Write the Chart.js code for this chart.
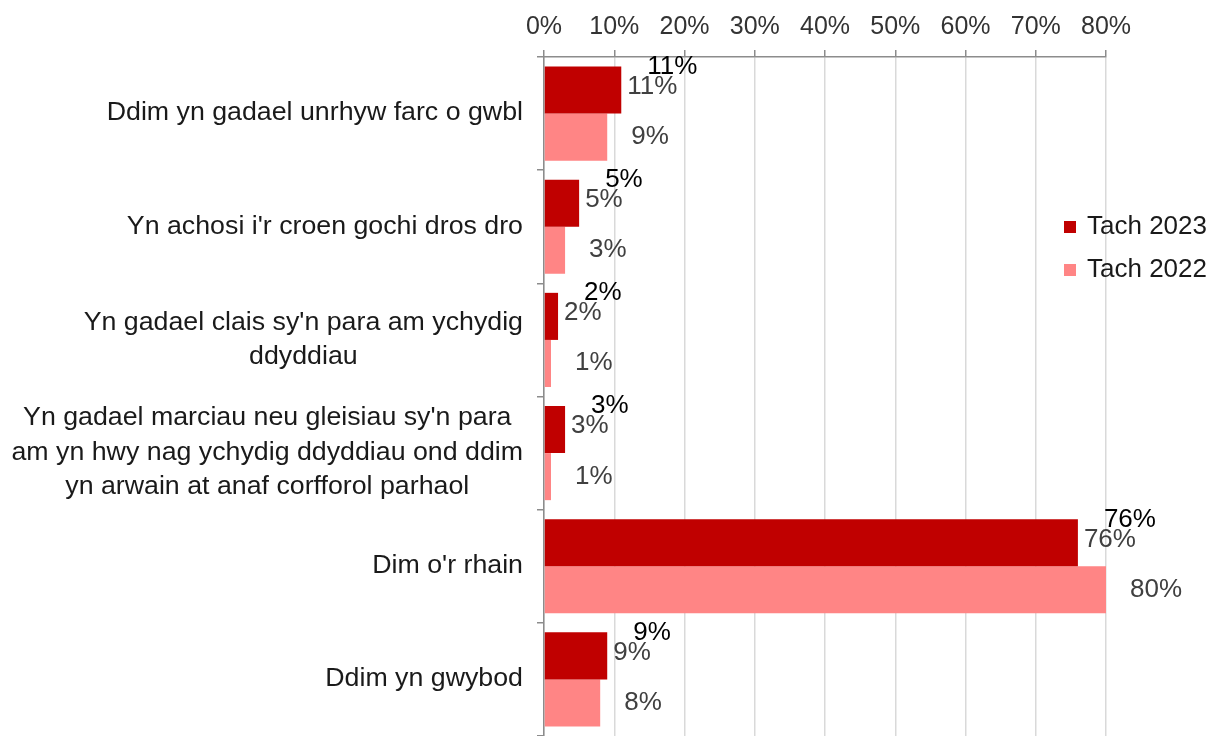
<!DOCTYPE html>
<html><head><meta charset="utf-8">
<script src="https://cdn.jsdelivr.net/npm/chart.js@4/dist/chart.umd.min.js"></script>
<style>html,body{margin:0;padding:0;background:#fff}#wrap{width:1220px;height:736px;position:relative}</style>
</head><body><div id="wrap"><canvas id="c"></canvas></div>
<script>
const categories = [
  ["Ddim yn gadael unrhyw farc o gwbl"],
  ["Yn achosi i'r croen gochi dros dro"],
  ["Yn gadael clais sy'n para am ychydig", "ddyddiau"],
  ["Yn gadael marciau neu gleisiau sy'n para", "am yn hwy nag ychydig ddyddiau ond ddim", "yn arwain at anaf corfforol parhaol"],
  ["Dim o'r rhain"],
  ["Ddim yn gwybod"]
];
const seriesNames = ["Tach 2023", "Tach 2022"];
const tach2023 = [11, 5, 2, 3, 76, 9];
const tach2022 = [9, 3, 1, 1, 80, 8];
const xTickValues = [0, 10, 20, 30, 40, 50, 60, 70, 80];

const FONT = "'Liberation Sans', Arial, sans-serif";
const colors = ["#C00000", "#FF8585"];

function stretchedText(ctx, txt, x, y, sx) {
  ctx.save();
  ctx.translate(x, y);
  ctx.scale(sx, 1);
  ctx.fillText(txt, 0, 0);
  ctx.restore();
}

const catLabelPlugin = {
  id: 'catLabels',
  afterDraw(chart) {
    const ctx = chart.ctx, ys = chart.scales.y;
    ctx.save();
    ctx.font = "25px " + FONT;
    ctx.fillStyle = "#1a1a1a";
    ctx.textAlign = "center";
    ctx.textBaseline = "middle";
    const right = 523, lh = 34.5, sx = 1.07;
    categories.forEach((lines, i) => {
      const y = ys.getPixelForValue(i);
      const w = Math.max(...lines.map(l => ctx.measureText(l).width)) * sx;
      const cx = right - w / 2;
      lines.forEach((l, j) => {
        stretchedText(ctx, l, cx, y + (j - (lines.length - 1) / 2) * lh, sx);
      });
    });
    ctx.restore();
  }
};

const dataLabelPlugin = {
  id: 'dataLabels',
  afterDatasetsDraw(chart) {
    const ctx = chart.ctx;
    ctx.save();
    ctx.font = "25px " + FONT;
    ctx.textAlign = "left";
    ctx.textBaseline = "middle";
    const sx = 1.04;
    chart.data.datasets.forEach((ds, di) => {
      const meta = chart.getDatasetMeta(di);
      meta.data.forEach((bar, i) => {
        const txt = ds.data[i] + "%";
        if (di === 0) {
          ctx.fillStyle = "#404040";
          stretchedText(ctx, txt, bar.x + 6, bar.y - 3, sx);
          ctx.fillStyle = "#000000";
          stretchedText(ctx, txt, bar.x + 26, bar.y - 23, sx);
        } else {
          ctx.fillStyle = "#404040";
          stretchedText(ctx, txt, bar.x + 24, bar.y, sx);
        }
      });
    });
    ctx.restore();
  }
};

const legendPlugin = {
  id: 'customLegend',
  afterDraw(chart) {
    const ctx = chart.ctx;
    ctx.save();
    ctx.font = "25px " + FONT;
    ctx.textAlign = "left";
    ctx.textBaseline = "middle";
    const x = 1064, y0 = 227, dy = 43;
    chart.data.datasets.forEach((ds, i) => {
      const y = y0 + i * dy;
      ctx.fillStyle = ds.backgroundColor;
      ctx.fillRect(x, y - 6, 12, 12);
      ctx.fillStyle = "#1a1a1a";
      stretchedText(ctx, ds.label, x + 23, y, 1.04);
    });
    ctx.restore();
  }
};

new Chart(document.getElementById('c'), {
  type: 'bar',
  data: {
    labels: categories.map(l => l.join(' ')),
    datasets: [
      { label: seriesNames[0], data: tach2023, backgroundColor: colors[0], borderWidth: 0 },
      { label: seriesNames[1], data: tach2022, backgroundColor: colors[1], borderWidth: 0 }
    ]
  },
  options: {
    indexAxis: 'y',
    responsive: true,
    maintainAspectRatio: false,
    animation: false,
    layout: { padding: { left: 0, right: 114, top: 0, bottom: -1 } },
    datasets: { bar: { barPercentage: 1.0, categoryPercentage: 0.832 } },
    plugins: { legend: { display: false }, tooltip: { enabled: false } },
    scales: {
      x: {
        position: 'top',
        min: 0, max: 80,
        afterBuildTicks: s => { s.ticks = xTickValues.map(v => ({ value: v })); },
        afterFit: s => { s.height = 57; },
        ticks: {
          callback: v => v + '%',
          font: { size: 25, family: FONT },
          color: '#333333',
          padding: 8,
          maxRotation: 0
        },
        grid: { color: '#d9d9d9', tickColor: '#8c8c8c', tickLength: 7, lineWidth: 1.5 },
        border: { color: '#8c8c8c', width: 1.5 }
      },
      y: {
        afterFit: s => { s.width = 544; },
        ticks: { display: false },
        grid: { offset: true, drawOnChartArea: false, tickColor: '#8c8c8c', tickLength: 7, lineWidth: 1.5 },
        border: { color: '#8c8c8c', width: 1.5 }
      }
    }
  },
  plugins: [catLabelPlugin, dataLabelPlugin, legendPlugin]
});
</script>
</body></html>
